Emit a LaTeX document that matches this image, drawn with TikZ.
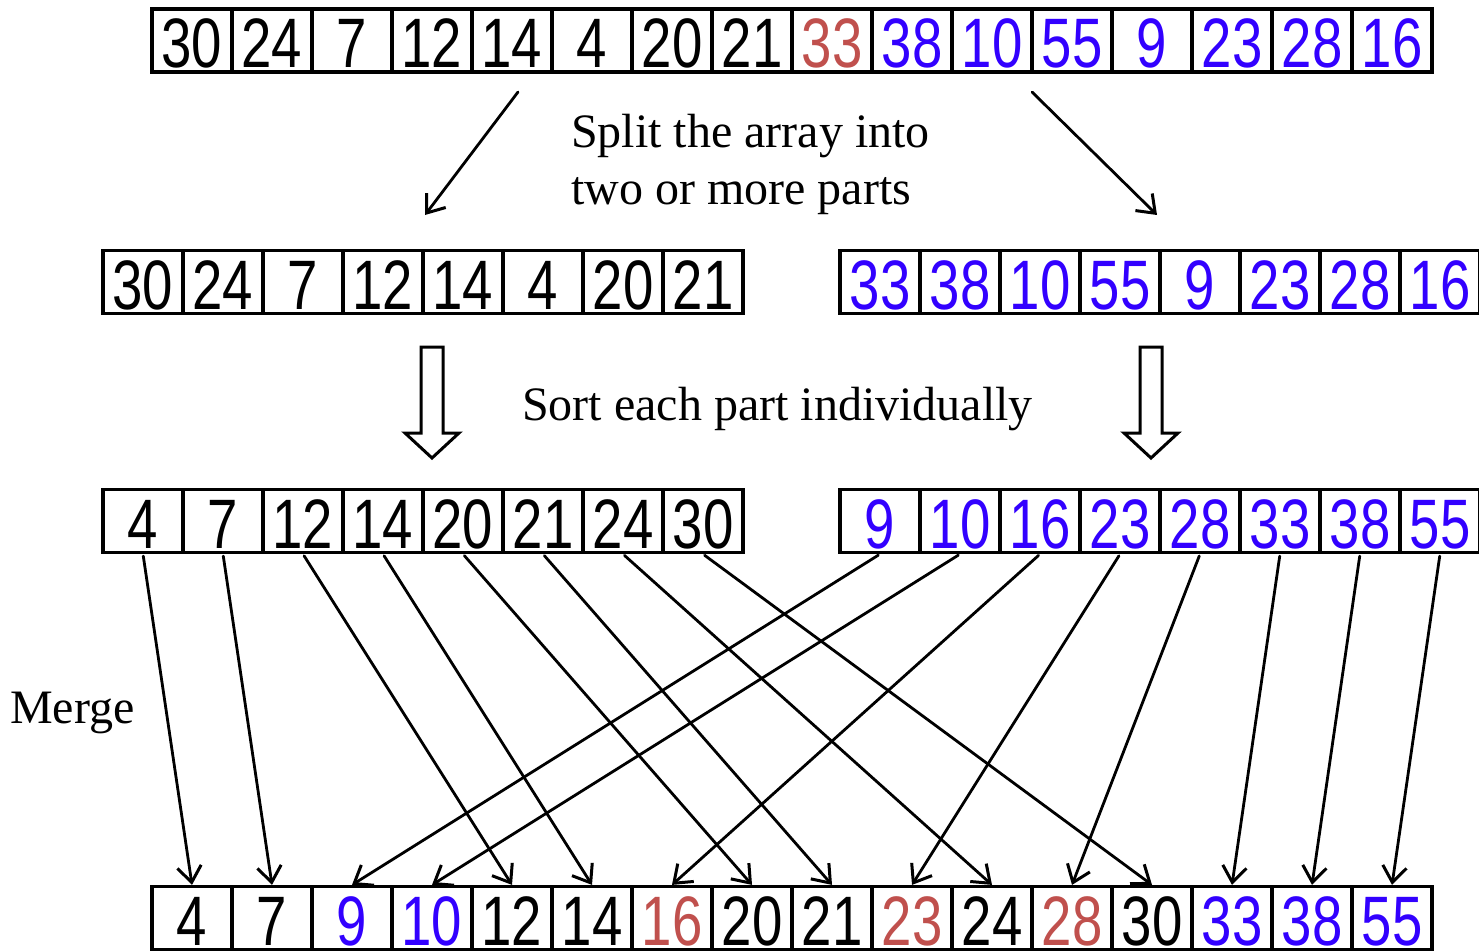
\documentclass[tikz,border=0pt]{standalone}
\usepackage{fontspec}
\usepackage{graphicx}
\setmainfont{Liberation Serif}
\newfontfamily\digitfont{Liberation Sans}
\usetikzlibrary{arrows.meta}
\definecolor{numblue}{RGB}{50,0,255}
\definecolor{numred}{RGB}{192,80,77}

% one row of array cells: name prefix, x of first centre, y of centre, value/colour list
\newcommand\cellrow[4]{%
  \foreach \v/\c [count=\i] in {#4}
    \node[cell, text=\c] (#1\i) at ({#2+80*(\i-1)}, #3) {\scalebox{0.78}[1]{\v}};
}

\begin{document}
\begin{tikzpicture}[x=1pt,y=-1pt,
  cell/.style={draw, line width=3.2pt, fill=white, minimum width=80pt,
    minimum height=63pt, inner sep=0pt, text height=55pt, text depth=0pt,
    font=\fontsize{70}{70}\selectfont\digitfont},
  link/.style={line width=2.8pt, line cap=round,
    -{Straight Barb[length=16pt,width=24pt,line width=3pt]}},
  caption/.style={font=\fontsize{48}{57}\selectfont, align=left, inner sep=0pt},
  hollow/.style={line width=3pt, fill=white, line join=miter}]
\useasboundingbox (0,0) rectangle (1479,952);

% unsorted array
\cellrow{t}{192}{40.5}{30/black,24/black,7/black,12/black,14/black,4/black,20/black,21/black,33/numred,38/numblue,10/numblue,55/numblue,9/numblue,23/numblue,28/numblue,16/numblue}

% the two halves
\cellrow{p}{143}{282}{30/black,24/black,7/black,12/black,14/black,4/black,20/black,21/black}
\cellrow{q}{880}{282}{33/numblue,38/numblue,10/numblue,55/numblue,9/numblue,23/numblue,28/numblue,16/numblue}

% each half sorted
\cellrow{s}{143}{521}{4/black,7/black,12/black,14/black,20/black,21/black,24/black,30/black}
\cellrow{u}{880}{521}{9/numblue,10/numblue,16/numblue,23/numblue,28/numblue,33/numblue,38/numblue,55/numblue}

% merged result
\cellrow{m}{192}{918}{4/black,7/black,9/numblue,10/numblue,12/black,14/black,16/numred,20/black,21/black,23/numred,24/black,28/numred,30/black,33/numblue,38/numblue,55/numblue}

% split step
\coordinate (splitLa) at (518,92);
\coordinate (splitLb) at (425,215);
\coordinate (splitRa) at (1032,92);
\coordinate (splitRb) at (1157,215);
\draw[link] (splitLa) -- (splitLb);
\draw[link] (splitRa) -- (splitRb);
\node[caption, anchor=west] (splittext) at (571,164) {Split the array into\\two or more parts};

% sort step: hollow block arrows
\foreach \x in {432,1151}
  \draw[hollow] ({\x-11},347) -- ({\x+11},347) -- ({\x+11},433) -- ({\x+27},433)
    -- (\x,458) -- ({\x-27},433) -- ({\x-11},433) -- cycle;
\node[caption, anchor=west] (sorttext) at (522,409) {Sort each part individually};

% merge step
\node[caption, anchor=west] (mergetext) at (10,713) {Merge};
\foreach \a/\b in {1/1,2/2,3/5,4/6,5/8,6/9,7/11,8/13}
  \draw[link, shorten <=2pt] (s\a.south) -- (m\b.north);
\foreach \a/\b in {1/3,2/4,3/7,4/10,5/12,6/14,7/15,8/16}
  \draw[link, shorten <=2pt] (u\a.south) -- (m\b.north);
\end{tikzpicture}
\end{document}
